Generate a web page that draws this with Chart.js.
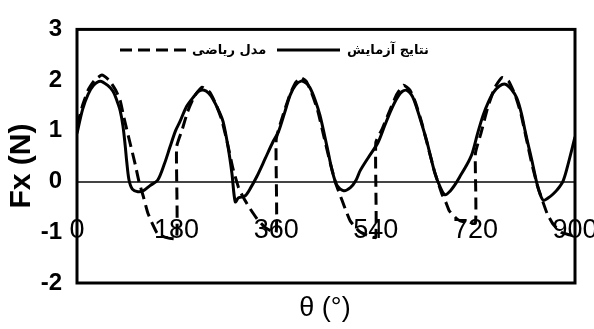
<!DOCTYPE html>
<html>
<head>
<meta charset="utf-8">
<script src="https://cdn.jsdelivr.net/npm/chart.js@4.4.1/dist/chart.umd.min.js"></script>
<style>
html,body{margin:0;padding:0;background:#fff;}
#wrap{width:594px;height:329px;position:relative;}
</style>
</head>
<body>
<div id="wrap"><canvas id="c" width="594" height="329"></canvas></div>
<script>
// ---- data ----
const seriesNames = ['مدل ریاضی', 'نتایج آزمایش'];
const xTitle = 'θ (°)';
const yTitle = 'Fx (N)';
const xTicks = [0, 180, 360, 540, 720, 900];
const yTicks = [-2, -1, 0, 1, 2, 3];

// experimental (solid)
const thetaExp = [0,10,20,30,42,55,65,72,78,83,87,90,94,100,110,120,132,146,158,168,178,186,198,210,220,230,238,246,256,264,273,280,286,292,304,314,325,340,354,364,375,385,395,405,414,421,430,439,452,461,470,482,494,504,512,528,544,556,566,576,586,596,606,614,624,632,640,647,656,665,675,685,692,704,714,724,734,744,752,763,774,785,795,803,810,816,822,831,837,843,852,860,868,878,886,900];
const fxExp = [0.95,1.42,1.72,1.9,1.98,1.9,1.78,1.6,1.4,1.1,0.72,0.38,0.03,-0.15,-0.2,-0.18,-0.08,0.03,0.35,0.68,1.0,1.18,1.48,1.66,1.78,1.8,1.74,1.62,1.4,1.18,0.68,0.16,-0.4,-0.32,-0.28,-0.12,0.1,0.45,0.78,0.98,1.35,1.7,1.9,1.98,1.94,1.85,1.62,1.31,0.68,0.22,-0.08,-0.18,-0.12,0.02,0.22,0.5,0.77,1.1,1.37,1.6,1.76,1.8,1.68,1.45,1.1,0.8,0.45,0.16,-0.1,-0.26,-0.18,-0.03,0.1,0.32,0.55,0.95,1.31,1.58,1.75,1.88,1.92,1.82,1.64,1.35,0.99,0.7,0.42,-0.03,-0.25,-0.37,-0.32,-0.25,-0.16,0.0,0.28,0.88];

// mathematical model (dashed)
const thetaModel = [0,10,20,32,45,58,70,78,85,95,105,112,120,128,137,145,160,180,180,190,200,212,226,240,252,262,272,282,292,300,309,318,327,342,360,360,372,385,395,404,414,424,435,447,458,468,479,487,494,510,525,540,540,552,566,578,590,602,612,622,634,646,655,660,667,673,687,700,720,720,730,742,755,768,780,792,802,812,822,832,842,850,861,875,890,900];
const fxModel = [1.1,1.5,1.8,2.0,2.1,2.0,1.8,1.6,1.25,0.8,0.35,0.0,-0.3,-0.62,-0.85,-1.02,-1.1,-1.12,0.68,1.02,1.38,1.68,1.86,1.76,1.5,1.2,0.75,0.25,-0.12,-0.3,-0.47,-0.62,-0.76,-0.92,-1.0,0.83,1.3,1.72,1.95,2.05,1.98,1.75,1.4,0.85,0.35,-0.05,-0.37,-0.6,-0.78,-0.98,-1.06,-1.1,0.77,1.05,1.42,1.72,1.9,1.8,1.55,1.2,0.7,0.2,-0.1,-0.26,-0.42,-0.58,-0.74,-0.8,-0.82,0.55,0.95,1.45,1.85,2.05,1.98,1.7,1.35,0.85,0.35,-0.08,-0.4,-0.64,-0.85,-1.0,-1.05,-1.08];

const toPts = (xs, ys) => xs.map((x, i) => ({x: x, y: ys[i]}));

const frameAndText = {
  id: 'frameAndText',
  beforeDatasetsDraw(chart) {
    const {ctx, chartArea: a} = chart;
    ctx.save();
    ctx.strokeStyle = '#000';
    ctx.lineWidth = 3;
    ctx.strokeRect(a.left, a.top, a.right - a.left, a.bottom - a.top);
    ctx.restore();
  },
  afterDraw(chart) {
    const {ctx} = chart;
    ctx.save();
    ctx.fillStyle = '#000';
    // axis titles
    ctx.font = 'bold 30px "Liberation Sans", Arial, sans-serif';
    ctx.textAlign = 'center';
    ctx.textBaseline = 'middle';
    ctx.translate(22, 166);
    ctx.rotate(-Math.PI / 2);
    ctx.fillText(yTitle, 0, 0);
    ctx.restore();
    ctx.save();
    ctx.fillStyle = '#000';
    ctx.font = '27px "Liberation Sans", Arial, sans-serif';
    ctx.textAlign = 'center';
    ctx.textBaseline = 'middle';
    ctx.fillText(xTitle, 325, 309);
    // legend
    const ds = chart.data.datasets;
    const items = [{x0: 120, x1: 188, tx: 192}, {x0: 277, x1: 340, tx: 347}];
    items.forEach((it, i) => {
      ctx.save();
      ctx.strokeStyle = ds[i].borderColor;
      ctx.lineWidth = 3;
      ctx.setLineDash(ds[i].borderDash || []);
      ctx.beginPath();
      ctx.moveTo(it.x0, 50);
      ctx.lineTo(it.x1, 50);
      ctx.stroke();
      ctx.restore();
      ctx.font = 'bold 13px "DejaVu Sans", sans-serif';
      ctx.textAlign = 'left';
      ctx.textBaseline = 'middle';
      ctx.fillStyle = '#000';
      ctx.fillText(ds[i].label, it.tx, 51);
    });
    ctx.restore();
  }
};

new Chart(document.getElementById('c'), {
  type: 'line',
  data: {
    datasets: [
      {
        label: seriesNames[0],
        data: toPts(thetaModel, fxModel),
        borderColor: '#000',
        borderWidth: 3,
        borderDash: [12, 6],
        pointRadius: 0,
        tension: 0.15,
        fill: false
      },
      {
        label: seriesNames[1],
        data: toPts(thetaExp, fxExp),
        borderColor: '#000',
        borderWidth: 3,
        pointRadius: 0,
        tension: 0.3,
        fill: false
      }
    ]
  },
  options: {
    responsive: false,
    animation: false,
    layout: {padding: {top: 22, right: 19, bottom: 46, left: 0}},
    plugins: {legend: {display: false}, tooltip: {enabled: false}},
    scales: {
      x: {
        type: 'linear',
        position: {y: 0},
        min: 0, max: 900,
        afterBuildTicks(s) { s.ticks = xTicks.map(v => ({value: v})); },
        afterFit(s) { s.paddingLeft = 0; s.paddingRight = 0; },
        grid: {display: false, drawTicks: false},
        border: {display: true, color: '#444', width: 2},
        ticks: {
          padding: 33, color: '#000', maxRotation: 0, autoSkip: false,
          font: {family: '"Liberation Sans", Arial, sans-serif', size: 27}
        }
      },
      y: {
        type: 'linear',
        position: 'left',
        min: -2, max: 3,
        afterBuildTicks(s) { s.ticks = yTicks.map(v => ({value: v})); },
        afterFit(s) { s.width = 77; },
        grid: {display: false, drawTicks: false},
        border: {display: false},
        ticks: {
          padding: 15, color: '#000',
          font: {family: '"Liberation Sans", Arial, sans-serif', size: 24, weight: 'bold'}
        }
      }
    }
  },
  plugins: [frameAndText]
});
</script>
</body>
</html>
